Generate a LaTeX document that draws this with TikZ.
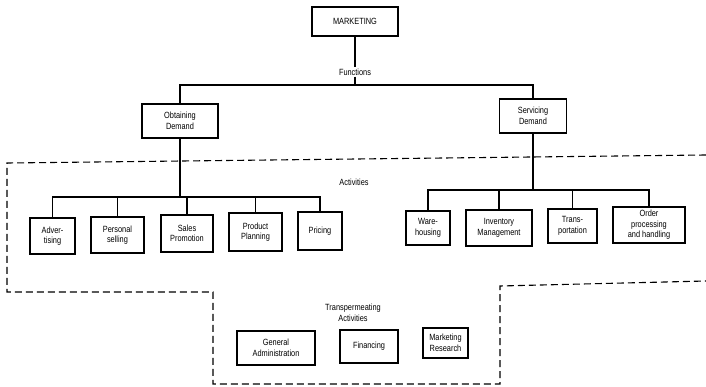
\documentclass[tikz,border=0pt]{standalone}
\usepackage{fontspec}
\setmainfont{Liberation Sans}[FakeStretch=0.82]
\begin{document}
\begin{tikzpicture}[x=1pt,y=-1pt,
  box/.style={draw,line width=1.1pt,align=center,inner sep=1pt,font=\fontsize{9}{10.5}\selectfont},
  lbl/.style={align=center,inner sep=1pt,font=\fontsize{9}{10.5}\selectfont},
  conn/.style={line width=1.1pt},
  bound/.style={line width=1.1pt,dash pattern=on 7pt off 4pt}]
\useasboundingbox (0,0) rectangle (706,387);
% nodes
\node[box,minimum width=86,minimum height=29] (mk) at (355,21.5) {MARKETING};
\node[lbl] (fn) at (355,72) {Functions};
\node[box,minimum width=76,minimum height=34] (ob) at (180,121) {Obtaining\\Demand};
\node[box,minimum width=67,minimum height=34] (sd) at (533,116) {Servicing\\Demand};
\node[lbl] (act) at (354,182) {Activities};
\node[box,minimum width=45,minimum height=36] (adv) at (52.5,236) {Adver-\\tising};
\node[box,minimum width=53,minimum height=36] (ps) at (117.5,235) {Personal\\selling};
\node[box,minimum width=52,minimum height=37] (sp) at (187,233.5) {Sales\\Promotion};
\node[box,minimum width=53,minimum height=38] (pp) at (255.5,232) {Product\\Planning};
\node[box,minimum width=44,minimum height=38] (pr) at (320,231) {Pricing};
\node[box,minimum width=44,minimum height=34] (wh) at (428,228) {Ware-\\housing};
\node[box,minimum width=66,minimum height=36] (im) at (499,228) {Inventory\\Management};
\node[box,minimum width=49,minimum height=34] (tr) at (572.5,226) {Trans-\\portation};
\node[box,minimum width=72,minimum height=36] (op) at (649,225) {Order\\processing\\and handling};
\node[lbl] (tp) at (353,313) {Transpermeating\\Activities};
\node[box,minimum width=78,minimum height=34] (ga) at (276,348) {General\\Administration};
\node[box,minimum width=58,minimum height=33] (fi) at (369,346.5) {Financing};
\node[box,minimum width=45,minimum height=30] (mr) at (445.5,343) {Marketing\\Research};
% bar coordinates
\coordinate (fbar) at (355,85);
\coordinate (lbar) at (180,197);
\coordinate (rbar) at (533,190);
% connectors
\draw[conn] (mk.south) -- (fn.north);
\draw[conn] (fn.south) -- (fbar);
\draw[conn] (ob.north) -- (ob.north |- fbar) -- (sd.north |- fbar) -- (sd.north);
\draw[conn] (ob.south) -- (lbar);
\draw[conn] (adv.north) -- (adv.north |- lbar) -- (pr.north |- lbar) -- (pr.north);
\draw[conn] (ps.north) -- (ps.north |- lbar);
\draw[conn] (sp.north) -- (sp.north |- lbar);
\draw[conn] (pp.north) -- (pp.north |- lbar);
\draw[conn] (sd.south) -- (rbar);
\draw[conn] (wh.north) -- (wh.north |- rbar) -- (op.north |- rbar) -- (op.north);
\draw[conn] (im.north) -- (im.north |- rbar);
\draw[conn] (tr.north) -- (tr.north |- rbar);
% boundary
\draw[bound] (706,155) -- (7,163) -- (7,292) -- (213,292) -- (213,384) -- (500,384) -- (500,286) -- (706,281);
\end{tikzpicture}
\end{document}
